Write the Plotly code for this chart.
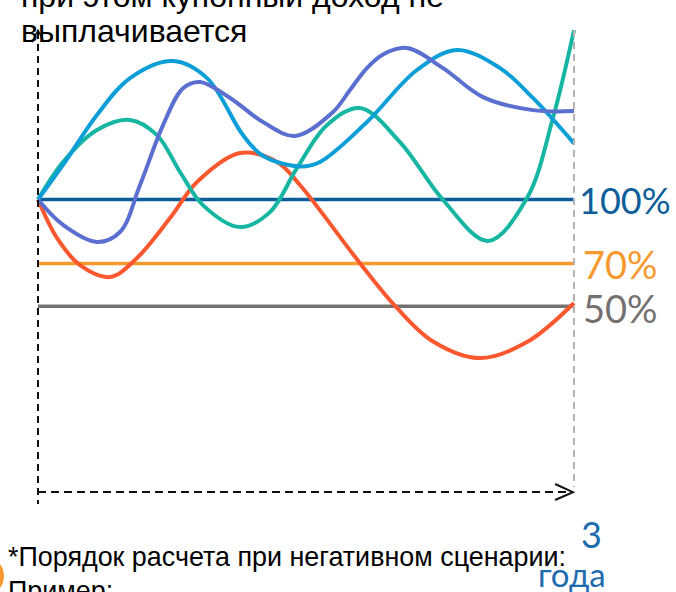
import plotly.graph_objects as go

# ---- data (years, % of initial level) ----
t_lb = [0, 0.140, 0.330, 0.515, 0.755, 0.946, 1.147, 1.259, 1.466, 1.578, 1.841, 2.121, 2.345, 2.586, 2.770, 3.0]
v_lb = [100, 116.2, 139.6, 156.9, 164.9, 156.9, 130.2, 120.5, 115.5, 117.6, 136.3, 160.7, 170.1, 161.6, 147.6, 126.3]

t_pb = [0, 0.140, 0.330, 0.459, 0.571, 0.700, 0.812, 0.907, 1.075, 1.259, 1.44, 1.651, 1.746, 1.841, 1.931, 2.065, 2.267, 2.491, 2.770, 3.0]
v_pb = [100, 88.1, 80.1, 84.8, 106.8, 134.9, 152.2, 155.1, 147.6, 136.3, 129.8, 141.0, 151.3, 161.6, 168.0, 171.0, 161.6, 148.0, 141.9, 141.5]

t_tl = [0, 0.140, 0.330, 0.515, 0.666, 0.795, 0.923, 1.131, 1.298, 1.450, 1.618, 1.802, 2.026, 2.267, 2.519, 2.737, 2.882, 3.0]
v_tl = [100, 117.6, 132.6, 137.3, 130.2, 112.9, 97.4, 87.1, 94.1, 114.8, 134.9, 142.9, 126.9, 99.8, 80.6, 100.7, 138.2, 179.4]

t_rd = [0, 0.106, 0.235, 0.403, 0.554, 0.739, 0.890, 1.131, 1.338, 1.466, 1.802, 2.009, 2.211, 2.474, 2.737, 3.0]
v_rd = [100, 82.0, 69.3, 63.7, 72.6, 91.3, 108.2, 121.8, 117.6, 106.8, 70.2, 49.2, 33.5, 25.7, 33.2, 51.5]

levels = [100, 70, 50]
level_labels = ["100%", "70%", "50%"]
level_colors = ["#0b5e99", "#f7992c", "#767171"]
T_START, T_END = 0, 3

title_lines = ["при этом купонный доход не", "выплачивается"]
note_lines = ["*Порядок расчета при негативном сценарии:", "Пример:"]
term_value = "3"
term_unit = "года"

fig = go.Figure()

# barrier levels
for lv, col in zip(levels, level_colors):
    fig.add_trace(go.Scatter(x=[T_START, T_END], y=[lv, lv], mode="lines",
                             line=dict(color=col, width=3.5), hoverinfo="skip"))

curves = [(t_rd, v_rd, "#fc5830"), (t_tl, v_tl, "#17b6a2"),
          (t_lb, v_lb, "#0c9fd7"), (t_pb, v_pb, "#5a6fcf")]
for tx, vy, col in curves:
    fig.add_trace(go.Scatter(x=tx, y=vy, mode="lines",
                             line=dict(color=col, width=4, shape="spline", smoothing=1.0),
                             hoverinfo="skip"))

shapes = [
    # gray dashed end-of-term line
    dict(type="line", xref="x", yref="y", x0=T_END, x1=T_END, y0=179.4, y1=-34.7,
         line=dict(color="#b3b3b3", width=2, dash="7px,5px")),
    # vertical axis
    dict(type="line", xref="x", yref="y", x0=T_START, x1=T_START, y0=178.5, y1=-42.7,
         line=dict(color="#111111", width=2, dash="7px,5px")),
    # horizontal axis
    dict(type="line", xref="x", yref="y", x0=T_START, x1=2.99, y0=-37.1, y1=-37.1,
         line=dict(color="#111111", width=2, dash="8px,5px")),
    # arrow heads
    dict(type="path", xref="x", yref="y", path="M 2.894 -33.3 L 2.994 -37.1 L 2.894 -40.8",
         line=dict(color="#111111", width=2)),
    dict(type="path", xref="x", yref="y", path="M -0.0336 173.8 L 0 179.4 L 0.0336 173.8",
         line=dict(color="#111111", width=1.5)),
    # partial orange bullet at bottom-left
    dict(type="circle", xref="paper", yref="paper", x0=-36/676, x1=4/676,
         y0=1 - 596/592, y1=1 - 556/592, fillcolor="#f7992c", line=dict(width=0)),
]

ann = []
for lbl, lv, col, ys, xs, fs in zip(level_labels, levels, level_colors,
                                    [0, 0, -2], [3, 7, 7], [36, 38, 38]):
    ann.append(dict(x=T_END, y=lv, xref="x", yref="y", text=lbl, showarrow=False,
                    xanchor="left", yanchor="middle", xshift=xs, yshift=ys,
                    font=dict(family="Lato", size=fs, color=col)))

body_font = "Liberation Sans, Arial, sans-serif"
ann.append(dict(x=19/676, y=1 + 4/592, xref="paper", yref="paper", text=title_lines[0],
                showarrow=False, xanchor="left", yanchor="middle",
                font=dict(family=body_font, size=32, color="#000000")))
ann.append(dict(x=19/676, y=1 - 31/592, xref="paper", yref="paper", text=title_lines[1],
                showarrow=False, xanchor="left", yanchor="middle",
                font=dict(family=body_font, size=32, color="#000000")))
ann.append(dict(x=6/676, y=1 - 557/592, xref="paper", yref="paper", text=note_lines[0],
                showarrow=False, xanchor="left", yanchor="middle",
                font=dict(family=body_font, size=26.9, color="#000000")))
ann.append(dict(x=6/676, y=1 - 591/592, xref="paper", yref="paper", text=note_lines[1],
                showarrow=False, xanchor="left", yanchor="middle",
                font=dict(family=body_font, size=26.9, color="#000000")))
ann.append(dict(x=604/676, y=1 - 534/592, xref="paper", yref="paper", text=term_value,
                showarrow=False, xanchor="right", yanchor="middle",
                font=dict(family="Lato", size=36, color="#1e6bb0")))
ann.append(dict(x=608/676, y=1 - 574/592, xref="paper", yref="paper", text=term_unit,
                showarrow=False, xanchor="right", yanchor="middle",
                font=dict(family="Lato", size=33, color="#1e6bb0")))

fig.update_layout(
    width=676, height=592,
    margin=dict(l=0, r=0, t=0, b=0),
    paper_bgcolor="white", plot_bgcolor="white",
    showlegend=False,
    xaxis=dict(range=[-0.2127, 3.5708], visible=False, fixedrange=True),
    yaxis=dict(range=[-83.9, 193.5], visible=False, fixedrange=True),
    shapes=shapes, annotations=ann,
)

fig.write_html("out.html", config={"displayModeBar": False},
               post_script="document.body.style.margin='0';document.body.style.overflow='hidden';")
